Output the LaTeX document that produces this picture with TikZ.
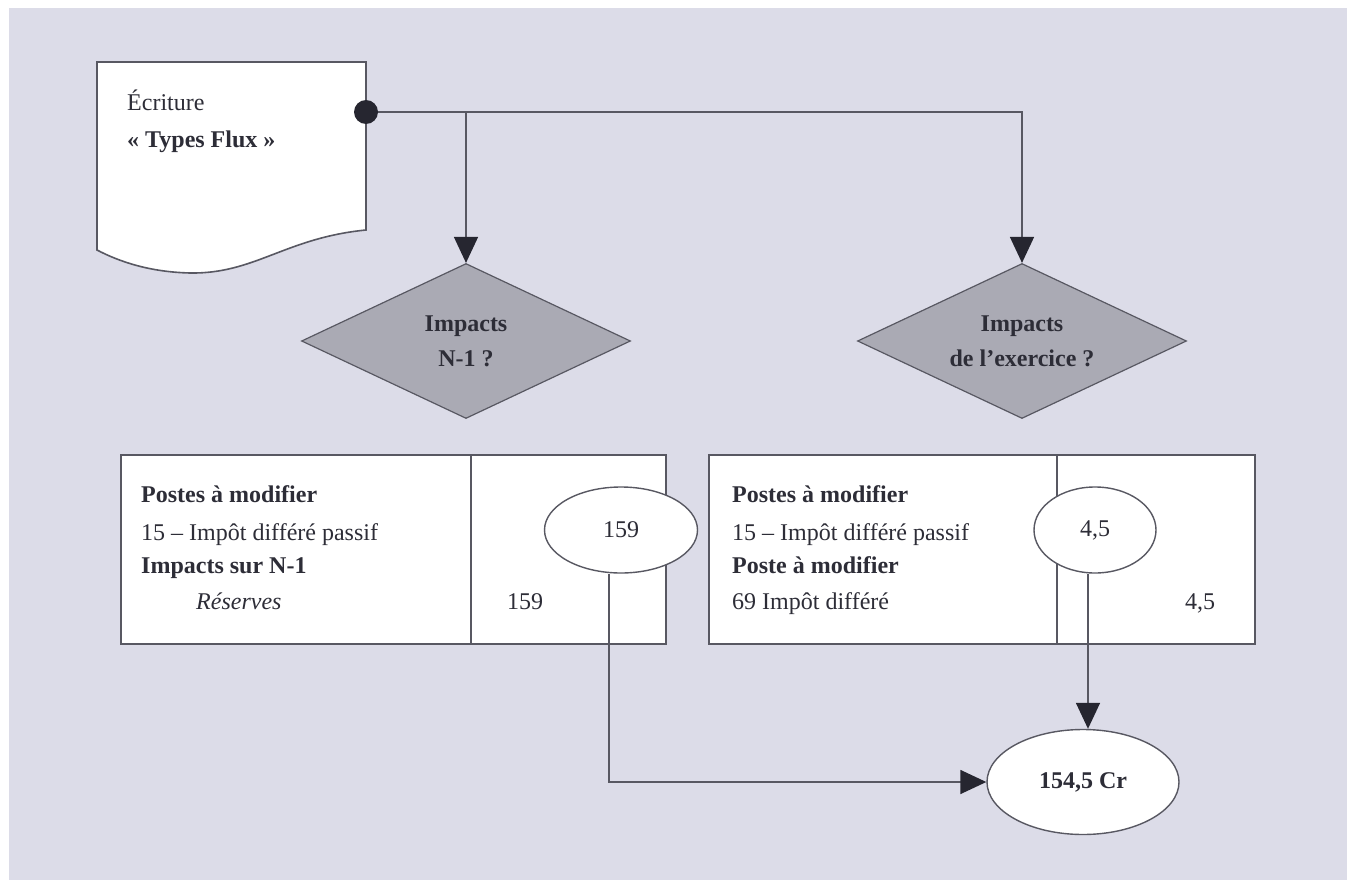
\documentclass[tikz,border=0pt]{standalone}
\usepackage{fontspec}
\setmainfont{Liberation Serif}
\usetikzlibrary{shapes.geometric,arrows.meta,calc}
\definecolor{bg}{RGB}{220,220,232}
\definecolor{ln}{RGB}{88,88,98}
\definecolor{tx}{RGB}{45,45,55}
\definecolor{dia}{RGB}{170,170,180}
\definecolor{tipc}{RGB}{38,38,48}
\begin{document}
\begin{tikzpicture}[x=1pt,y=-1pt,
  every node/.style={font=\fontsize{24}{35}\selectfont, text=tx},
  line/.style={draw=ln, line width=1.6pt},
  arr/.style={line, -{Triangle[length=26pt,width=24pt,color=tipc]}},
  decision/.style={diamond, draw=ln, line width=1.2pt, fill=dia, inner sep=0pt, aspect=2.12,
    minimum width=329pt, minimum height=155pt, align=center,
    font=\fontsize{24}{35}\selectfont\bfseries},
  tbl/.style={rectangle, draw=ln, line width=1.6pt, fill=white, inner sep=0pt},
  ell/.style={ellipse, draw=ln, line width=1.4pt, fill=white, inner sep=0pt},
  txt/.style={anchor=base west, inner sep=0pt},
  num/.style={anchor=base, inner sep=0pt},
  dotst/.style={circle, fill=tipc, minimum size=24pt, inner sep=0pt}
]
\useasboundingbox (0,0) rectangle (1352,880);
\fill[white] (0,0) rectangle (1352,880);
\fill[bg] (9,8) rectangle (1347,880);

% decision diamonds
\node[decision] (dia1) at (466,341) {Impacts\\N-1 ?};
\node[decision] (dia2) at (1022,341) {Impacts\\de l'exercice ?};

% document shape
\draw[line, fill=white] (97,62) -- (366,62) -- (366,230)
  .. controls (285,238) and (255,274) .. (190,273)
  .. controls (150,272) and (120,262) .. (97,250) -- cycle;
\node[txt] (ecr) at (127,111) {Écriture};
\node[txt] (tf) at (127,148) {\textbf{« Types Flux »}};

% connectors from the dot
\coordinate (dotc) at (366,112);
\draw[arr] (dotc) -| (dia1.north);
\draw[arr] (dotc) -| (dia2.north);
\node[dotst] (dot) at (dotc) {};

% tables
\node[tbl, minimum width=545pt, minimum height=189pt] (t1) at (393.5,549.5) {};
\node[tbl, minimum width=546pt, minimum height=189pt] (t2) at (982,549.5) {};
\coordinate (c1) at (471,0);
\coordinate (c2) at (1057,0);
\draw[line] (t1.north -| c1) -- (t1.south -| c1);
\draw[line] (t2.north -| c2) -- (t2.south -| c2);

\node[txt] (a1) at (141,502) {\textbf{Postes à modifier}};
\node[txt] (a2) at (141,540) {15 -- Impôt différé passif};
\node[txt] (a3) at (141,573) {\textbf{Impacts sur N-1}};
\node[txt] (a4) at (196,609) {\textit{Réserves}};
\node[num] (a5) at (525,609) {159};

\node[txt] (b1) at (732,502) {\textbf{Postes à modifier}};
\node[txt] (b2) at (732,540) {15 -- Impôt différé passif};
\node[txt] (b3) at (732,573) {\textbf{Poste à modifier}};
\node[txt] (b4) at (732,609) {69 Impôt différé};
\node[num] (b5) at (1200,609) {4,5};

% ellipses
\node[ell, minimum width=153pt, minimum height=86pt] (e159) at (621,530) {159};
\node[ell, minimum width=122pt, minimum height=86pt] (e45) at (1095,530) {4,5};
\node[ell, minimum width=192pt, minimum height=105pt, font=\fontsize{24}{35}\selectfont\bfseries] (tot) at (1083,782) {154,5 Cr};

% connectors to the total
\coordinate (v1) at (609,782);
\coordinate (v2) at (1088,0);
\draw[arr] (e159.south -| v1) |- (tot.west);
\draw[arr] (e45.south -| v2) -- (tot.north -| v2);
\end{tikzpicture}
\end{document}
